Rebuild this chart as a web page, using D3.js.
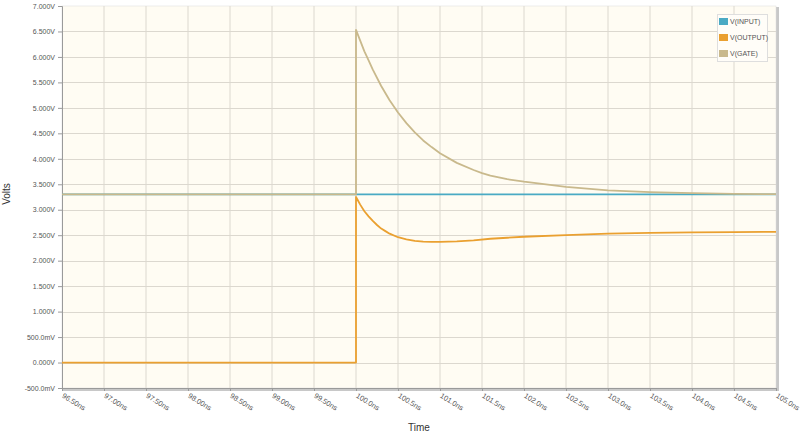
<!DOCTYPE html>
<html><head><meta charset="utf-8">
<script src="https://cdn.jsdelivr.net/npm/d3@7"></script>
<style>body{margin:0;background:#fff}svg{display:block}</style>
</head><body><svg id="c" width="800" height="439"></svg>
<script>
// ---- data (time in ns, volts) ----
const xTicks = [96.5,97.0,97.5,98.0,98.5,99.0,99.5,100.0,100.5,101.0,101.5,102.0,102.5,103.0,103.5,104.0,104.5,105.0];
const xTickLabels = ["96.50ns","97.00ns","97.50ns","98.00ns","98.50ns","99.00ns","99.50ns","100.0ns","100.5ns","101.0ns","101.5ns","102.0ns","102.5ns","103.0ns","103.5ns","104.0ns","104.5ns","105.0ns"];
const yTicks = [-0.5,0,0.5,1,1.5,2,2.5,3,3.5,4,4.5,5,5.5,6,6.5,7];
const yTickLabels = ["-500.0mV","0.000V","500.0mV","1.000V","1.500V","2.000V","2.500V","3.000V","3.500V","4.000V","4.500V","5.000V","5.500V","6.000V","6.500V","7.000V"];
const seriesNames = ["V(INPUT)","V(OUTPUT)","V(GATE)"];
const seriesColors = ["#4aaac4","#eaa030","#c9b98c"];

const inputT = [96.5, 105.0];
const inputV = [3.30, 3.30];

const outputT = [96.5,100.0,100.0,100.02,100.05,100.1,100.15,100.2,100.25,100.3,100.35,100.4,100.5,100.6,100.7,100.8,100.9,101.0,101.2,101.4,101.6,101.8,102.0,102.5,103.0,103.5,104.0,104.5,105.0];
const outputV = [0.0,0.0,3.25,3.19,3.10,2.97,2.87,2.78,2.70,2.63,2.58,2.53,2.46,2.42,2.39,2.375,2.37,2.37,2.38,2.40,2.43,2.45,2.47,2.50,2.53,2.545,2.555,2.56,2.565];

const gateT = [96.5,100.0,100.0,100.05,100.1,100.15,100.2,100.3,100.4,100.5,100.6,100.7,100.8,100.9,101.0,101.2,101.4,101.5,101.6,101.8,102.0,102.5,103.0,103.5,104.0,104.5,105.0];
const gateV = [3.30,3.30,6.53,6.32,6.11,5.93,5.75,5.43,5.15,4.91,4.70,4.52,4.36,4.23,4.11,3.92,3.78,3.72,3.67,3.60,3.55,3.45,3.38,3.345,3.325,3.31,3.305];

// ---- layout ----
const svg = d3.select("#c");
const L = 62, R = 776, T = 6, B = 388;
const x = d3.scaleLinear().domain([96.5,105]).range([L,R]);
const y = d3.scaleLinear().domain([-0.5,7]).range([B,T]);
const font = "'Liberation Sans', Arial, sans-serif";

// shadow + background
svg.append("rect").attr("x",L+1).attr("y",T+1).attr("width",R-L+2).attr("height",B-T+2).attr("fill","#c8c8c8");
svg.append("rect").attr("x",L).attr("y",T).attr("width",R-L).attr("height",B-T).attr("fill","#fffcf3").attr("stroke","#dcdcdc").attr("stroke-width",0.5);

// grid
const g = svg.append("g");
g.selectAll("line.v").data(xTicks.slice(1,-1)).join("line")
  .attr("x1",d=>x(d)).attr("x2",d=>x(d)).attr("y1",T).attr("y2",B)
  .attr("stroke","#dcd8cf").attr("stroke-width",1);
g.selectAll("line.h").data(yTicks.slice(1,-1)).join("line")
  .attr("y1",d=>Math.round(y(d))+0.5).attr("y2",d=>Math.round(y(d))+0.5).attr("x1",L).attr("x2",R)
  .attr("stroke","#dcd8cf").attr("stroke-width",1);

// axes
const yAxis = d3.axisLeft(y).tickValues(yTicks).tickFormat((d,i)=>yTickLabels[i]).tickSize(4).tickPadding(3);
const ya = svg.append("g").attr("transform",`translate(${L},0)`).call(yAxis);
ya.select(".domain").attr("stroke","#9a9a9a");
ya.selectAll(".tick line").attr("stroke","#9a9a9a");
ya.selectAll("text").attr("font-family",font).attr("font-size",7).attr("fill","#555");

const xAxis = d3.axisBottom(x).tickValues(xTicks).tickFormat((d,i)=>xTickLabels[i]).tickSize(3);
const xa = svg.append("g").attr("transform",`translate(0,${B})`).call(xAxis);
xa.select(".domain").attr("stroke","#9a9a9a");
xa.selectAll(".tick line").attr("stroke","#9a9a9a");
xa.selectAll("text").attr("font-family",font).attr("font-size",7.3).attr("fill","#555")
  .attr("text-anchor","start").attr("dy",0).attr("y",0)
  .attr("transform","translate(-1,9) rotate(32)");

// axis titles
svg.append("text").attr("x",419).attr("y",431).attr("text-anchor","middle")
  .attr("font-family",font).attr("font-size",10).attr("fill","#333").text("Time");
svg.append("text").attr("transform","translate(10,194) rotate(-90)").attr("text-anchor","middle")
  .attr("font-family",font).attr("font-size",10).attr("fill","#333").text("Volts");

// lines
const line = d3.line().x(d=>x(d[0])).y(d=>y(d[1]));
const series = [
  inputT.map((t,i)=>[t,inputV[i]]),
  outputT.map((t,i)=>[t,outputV[i]]),
  gateT.map((t,i)=>[t,gateV[i]])
];
svg.append("clipPath").attr("id","cp").append("rect").attr("x",L).attr("y",T).attr("width",R-L).attr("height",B-T);
const lg = svg.append("g").attr("clip-path","url(#cp)");
series.forEach((s,i)=>{
  lg.append("path").attr("d",line(s)).attr("fill","none")
    .attr("stroke",seriesColors[i]).attr("stroke-width",1.8).attr("stroke-linejoin","round");
});

// legend
const leg = svg.append("g");
leg.append("rect").attr("x",717.5).attr("y",14.5).attr("width",50).attr("height",47)
  .attr("fill","#fffdf8").attr("stroke","#dedede").attr("stroke-width",1);
seriesNames.forEach((n,i)=>{
  leg.append("rect").attr("x",719).attr("y",18+i*16).attr("width",9).attr("height",7).attr("fill",seriesColors[i]);
  leg.append("text").attr("x",730).attr("y",24+i*16).attr("font-family",font).attr("font-size",7)
    .attr("fill","#555").text(n);
});
</script></body></html>
